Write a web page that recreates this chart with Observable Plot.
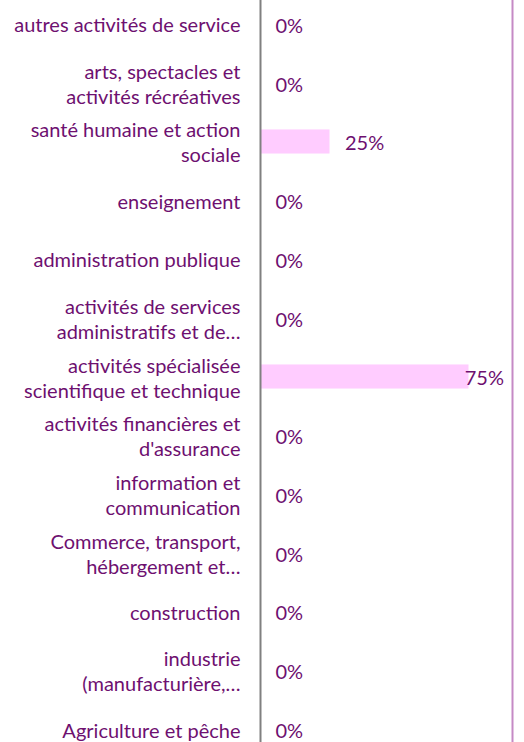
<!DOCTYPE html>
<html>
<head>
<meta charset="utf-8">
<script src="https://cdn.jsdelivr.net/npm/d3@7"></script>
<script src="https://cdn.jsdelivr.net/npm/@observablehq/plot@0.6"></script>
<style>
  html, body { margin: 0; padding: 0; background: #fff; }
  #chart svg { display: block; }
</style>
</head>
<body>
<div id="chart"></div>
<script>
const categories = [
  "autres activités de service",
  "arts, spectacles et activités récréatives",
  "santé humaine et action sociale",
  "enseignement",
  "administration publique",
  "activités de services administratifs et de…",
  "activités spécialisée scientifique et technique",
  "activités financières et d'assurance",
  "information et communication",
  "Commerce, transport, hébergement et…",
  "construction",
  "industrie (manufacturière,…",
  "Agriculture et pêche"
];
const tickLabels = [
  "autres activités de service",
  "arts, spectacles et\nactivités récréatives",
  "santé humaine et action\nsociale",
  "enseignement",
  "administration publique",
  "activités de services\nadministratifs et de…",
  "activités spécialisée\nscientifique et technique",
  "activités financières et\nd'assurance",
  "information et\ncommunication",
  "Commerce, transport,\nhébergement et…",
  "construction",
  "industrie\n(manufacturière,…",
  "Agriculture et pêche"
];
const values = [0, 0, 0.25, 0, 0, 0, 0.75, 0, 0, 0, 0, 0, 0];

const data = categories.map((c, i) => ({category: c, value: values[i], label: tickLabels[i]}));
const labelOf = new Map(categories.map((c, i) => [c, tickLabels[i]]));
const pct = d => `${Math.round(d.value * 100)}%`;

const textColor = "#6e1070";
const xMax = 0.9065;

const chart = Plot.plot({
  width: 524,
  height: 742,
  marginLeft: 260,
  marginRight: 12,
  marginTop: 0,
  marginBottom: 0,
  style: {fontFamily: "Lato, 'Open Sans', sans-serif", fontSize: "20px", color: textColor, background: "#fff"},
  x: {domain: [0, xMax], axis: null},
  y: {domain: categories, range: [-5.4, 758.4], paddingInner: 0.59, paddingOuter: 0.295, align: 0.5, round: false, label: null},
  marks: [
    Plot.barX(data, {x: "value", y: "category", fill: "#ffccff"}),
    Plot.ruleX([0], {stroke: "#808080", strokeWidth: 2}),
    Plot.ruleX([xMax], {stroke: "#c58ac5", strokeWidth: 2}),
    Plot.axisY({tickSize: 0, tickPadding: 20, tickFormat: d => labelOf.get(d), fill: textColor, fontSize: 20, lineHeight: 1.25, label: null}),
    Plot.text(data.filter(d => d.value < 0.6), {x: "value", y: "category", text: pct, textAnchor: "start", dx: 15, dy: 2, fill: textColor, fontSize: 20}),
    Plot.text(data.filter(d => d.value >= 0.6), {x: "value", y: "category", text: pct, textAnchor: "end", dx: 35, dy: 2, fill: textColor, fontSize: 20})
  ]
});
document.getElementById("chart").append(chart);
</script>
</body>
</html>
